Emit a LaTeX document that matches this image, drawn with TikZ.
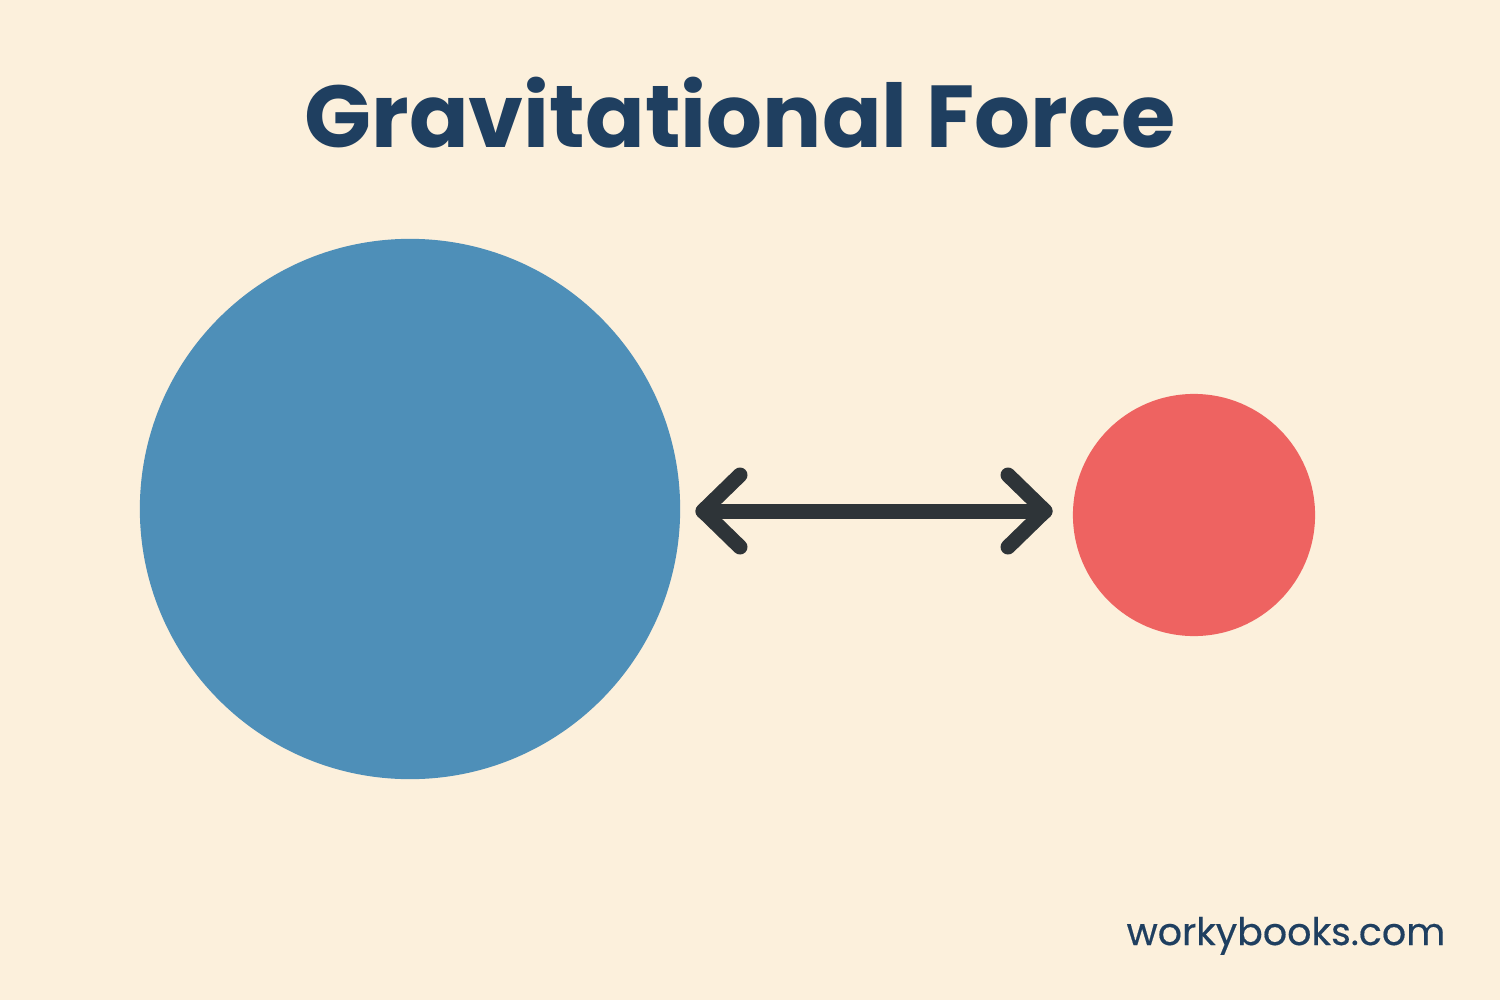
\documentclass[tikz,border=0pt]{standalone}
\usepackage{fontspec}
\setmainfont{Poppins}
\newfontfamily\footfont{Poppins}[FakeBold=0.4]
\definecolor{bg}{HTML}{FCF0DC}
\definecolor{navy}{HTML}{1F3F60}
\definecolor{bigblue}{HTML}{4E8FB8}
\definecolor{smallred}{HTML}{EE6361}
\definecolor{arrowc}{HTML}{2E3438}
\tikzset{
  arrowline/.style={draw=arrowc, line width=0.15cm, line cap=round, line join=round},
}
\begin{document}
\begin{tikzpicture}[x=0.01cm,y=-0.01cm]
\fill[bg] (0,0) rectangle (1500,1000);
\useasboundingbox (0,0) rectangle (1500,1000);
\node[text=navy, font=\bfseries\fontsize{25}{30}\selectfont, anchor=base] (title) at (740,147) {Gravitational Force};
\node[circle, fill=bigblue, minimum size=5.4cm, inner sep=0pt] (big) at (410,509) {};
\node[circle, fill=smallred, minimum size=2.42cm, inner sep=0pt] (small) at (1194,515) {};
\coordinate (lt) at (703,511);
\coordinate (rt) at (1045,511);
\draw[arrowline] (lt) -- (rt);
\draw[arrowline] ([shift={(37,-36)}]lt) -- (lt) -- ([shift={(37,36)}]lt);
\draw[arrowline] ([shift={(-37,-36)}]rt) -- (rt) -- ([shift={(-37,36)}]rt);
\node[text=navy, font=\footfont\fontsize{10.8}{13}\selectfont, anchor=base east, inner sep=0pt] (site) at (1446,945) {workybooks.com};
\end{tikzpicture}
\end{document}
